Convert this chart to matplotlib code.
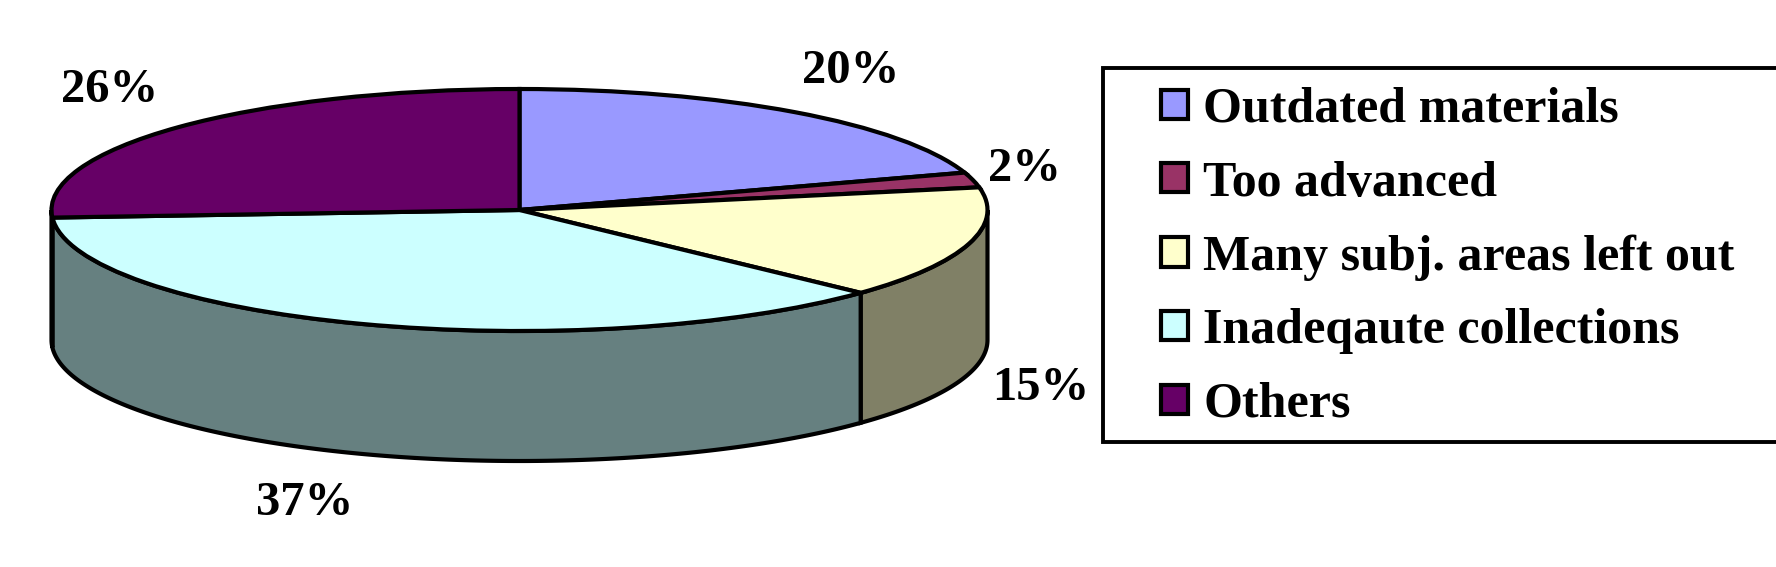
import numpy as np
import matplotlib
matplotlib.use('Agg')
import matplotlib.pyplot as plt
from matplotlib.patches import Polygon, Rectangle

W, H = 1776, 567

names = ['Outdated materials', 'Too advanced', 'Many subj. areas left out',
         'Inadeqaute collections', 'Others']
values = [20, 2, 15, 37, 26]
colors = ['#9999FF', '#993366', '#FFFFCC', '#CCFFFF', '#660066']
wall_colors = ['#4D4D80', '#4D1A33', '#808066', '#668080', '#330033']
# pixel position of each percent label
label_x = [851, 1024, 1041, 305, 110]
label_y = [71, 169, 388, 503, 90]

plt.rcParams['font.family'] = ['Liberation Serif', 'DejaVu Serif']
plt.rcParams['font.weight'] = 'bold'

fig = plt.figure(figsize=(W / 100, H / 100), dpi=100)

# pie ellipse in pixels
cx, cy, a, b, depth = 519.5, 210, 468, 121, 130
ax = fig.add_axes([(cx - a) / W, 1 - (cy + b) / H, 2 * a / W, 2 * b / H])

wedges, _ = ax.pie(values, colors=colors, startangle=90, counterclock=False,
                   wedgeprops=dict(edgecolor='black', linewidth=3.0, clip_on=False))
ax.set_aspect('auto')
ax.set_xlim(-1, 1)
ax.set_ylim(-1, 1)

# side wall, only the front half of the cylinder shows
edges = np.cumsum([0] + values) / sum(values) * 360
for i in range(len(values)):
    t0 = max(edges[i], 90)
    t1 = min(edges[i + 1], 270)
    if t1 <= t0:
        continue
    t = np.radians(np.linspace(t0, t1, 200))
    x = np.sin(t)
    y = np.cos(t)
    d = depth / b
    pts = np.r_[np.c_[x, y], np.c_[x[::-1], y[::-1] - d]]
    ax.add_patch(Polygon(pts, closed=True, facecolor=wall_colors[i], edgecolor='black',
                         linewidth=3.0, clip_on=False, zorder=0.5))

for v, lx, ly in zip(values, label_x, label_y):
    fig.text(lx / W, 1 - ly / H, f'{v}%', fontsize=35, fontweight='bold',
             ha='center', va='center')

# legend box runs off the right edge, so it is drawn apart from the legend
fig.add_artist(Rectangle((1103 / W, 1 - 442 / H), 720 / W, 374 / H, transform=fig.transFigure,
                         facecolor='white', edgecolor='black', linewidth=2.8))

leg = fig.legend(wedges, names, loc='upper left', bbox_to_anchor=(1161 / W, 1 - 87 / H),
                 borderaxespad=0, borderpad=0, fontsize=36, frameon=False,
                 handlelength=0.54, handleheight=0.52, handletextpad=0.3, labelspacing=0.552)

fig.savefig('out.png', dpi=100)
